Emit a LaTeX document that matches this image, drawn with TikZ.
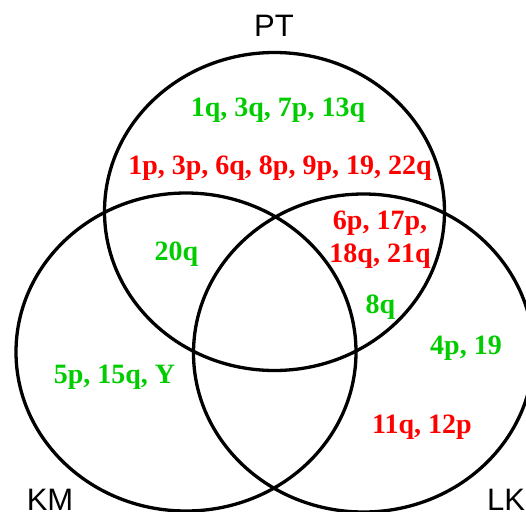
\documentclass[tikz,border=0pt]{standalone}
\usepackage{fontspec}
\setmainfont{Liberation Serif}
\newfontfamily\labfont{Liberation Sans}
\definecolor{vgreen}{RGB}{0,204,0}
\definecolor{vred}{RGB}{255,0,0}
\begin{document}
\begin{tikzpicture}[x=1pt,y=-1pt,
  setring/.style={draw=black,line width=3.3pt},
  setname/.style={font=\labfont\fontsize{31}{31}\selectfont,anchor=base,inner sep=0pt},
  gtxt/.style={font=\bfseries\fontsize{28}{28}\selectfont,text=vgreen,anchor=base,inner sep=0pt,align=center},
  rtxt/.style={font=\bfseries\fontsize{28}{28}\selectfont,text=vred,anchor=base,inner sep=0pt,align=center}]
\useasboundingbox (0,0) rectangle (526,511);
\draw[setring] (274.5,211.5) ellipse [x radius=170, y radius=159];
\draw[setring] (186,352) ellipse [x radius=170, y radius=159];
\draw[setring] (363.5,353) ellipse [x radius=170, y radius=159];
\node[setname] (pt) at (274,37) {PT};
\node[setname] (km) at (50,510) {KM};
\node[setname] (lk) at (506,510) {LK};
\node[gtxt] (a) at (278,116) {1q, 3q, 7p, 13q};
\node[rtxt] (b) at (280,174.5) {1p, 3p, 6q, 8p, 9p, 19, 22q};
\node[gtxt] (c) at (176.5,260) {20q};
\node[rtxt] (d) at (380,229) {6p, 17p,};
\node[rtxt] (e) at (380,262) {18q, 21q};
\node[gtxt] (f) at (380.5,313) {8q};
\node[gtxt] (g) at (466,354) {4p, 19};
\node[gtxt] (h) at (114.5,383) {5p, 15q, Y};
\node[rtxt] (i) at (422,433) {11q, 12p};
\end{tikzpicture}
\end{document}
